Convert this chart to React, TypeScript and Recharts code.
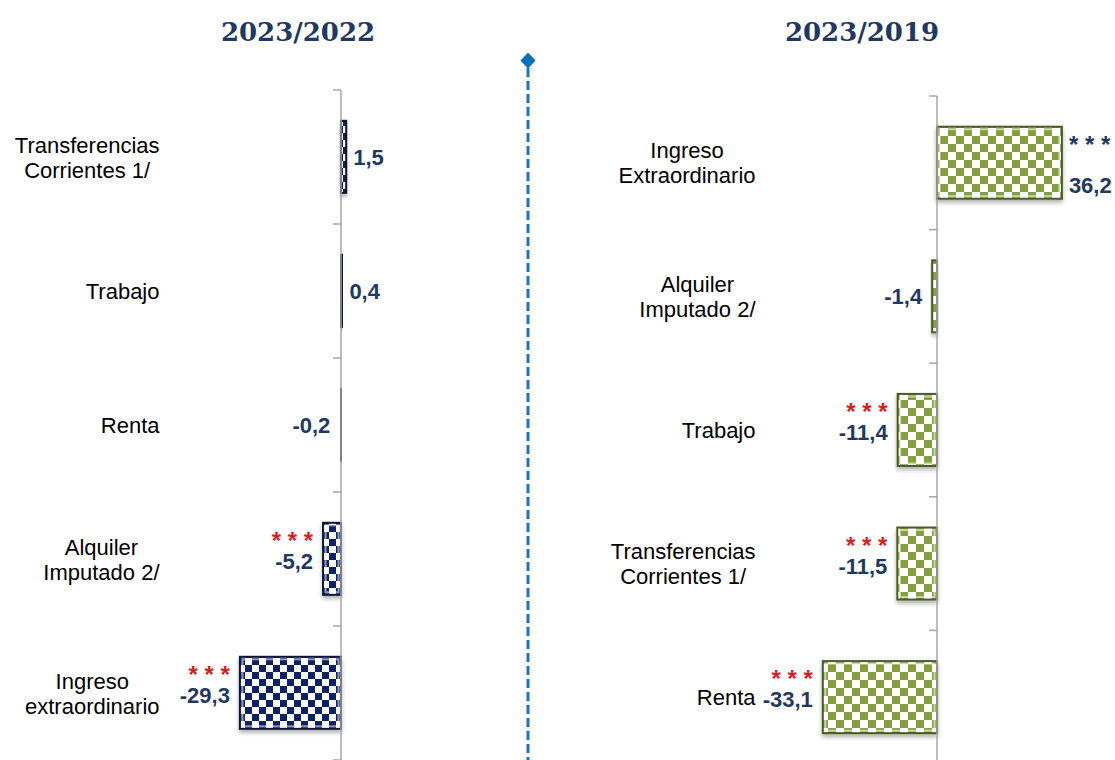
import React from 'react';
import { BarChart, Bar, XAxis, YAxis, ReferenceLine, LabelList } from 'recharts';

// ---------- DATA ----------
const leftTitle = '2023/2022';
const leftCategories = ['Transferencias\nCorrientes 1/', 'Trabajo', 'Renta', 'Alquiler\nImputado 2/', 'Ingreso\nextraordinario'];
const leftValues = [1.5, 0.4, -0.2, -5.2, -29.3];
const leftSig = ['', '', '', '***', '***'];

const rightTitle = '2023/2019';
const rightCategories = ['Ingreso\nExtraordinario', 'Alquiler\nImputado 2/', 'Trabajo', 'Transferencias\nCorrientes 1/', 'Renta'];
const rightValues = [36.2, -1.4, -11.4, -11.5, -33.1];
const rightSig = ['***', '', '***', '***', '***'];

const xDomain: [number, number] = [-50, 50];

// ---------- STYLE ----------
const SANS = "'Liberation Sans', Arial, sans-serif";
const NAVY = '#1F3864';
const RED = '#D91E1E';
const AXIS_GRAY = '#A6A6A6';
const AXIS_W = 168.5;
const TICK_PX = 8;
const CAT_FS = 22;
const VAL_FS = 22;

let canvasCtx: CanvasRenderingContext2D | null = null;
function measure(text: string, font: string): number {
  if (!canvasCtx) {
    const c = document.createElement('canvas');
    canvasCtx = c.getContext('2d');
  }
  if (!canvasCtx) return text.length * 10;
  canvasCtx.font = font;
  return canvasCtx.measureText(text).width;
}

const CategoryTick = (props: any) => {
  const { x, y, payload, index, zeroX, band, count } = props;
  const lines = String(payload.value).split('\n');
  const widths = lines.map((l) => measure(l, `${CAT_FS}px 'Liberation Sans'`));
  const block = Math.max(...widths);
  const cx = x - block / 2;
  const lh = 25;
  const y0 = y - ((lines.length - 1) * lh) / 2;
  return (
    <g>
      <line x1={zeroX - TICK_PX} x2={zeroX} y1={y - band / 2} y2={y - band / 2} stroke={AXIS_GRAY} strokeWidth={1.5} />
      {index === count - 1 ? (
        <line x1={zeroX - TICK_PX} x2={zeroX} y1={y + band / 2} y2={y + band / 2} stroke={AXIS_GRAY} strokeWidth={1.5} />
      ) : null}
      <text textAnchor="middle" fontFamily={SANS} fontSize={CAT_FS} fill="#000">
        {lines.map((l, i) => (
          <tspan key={i} x={cx} y={y0 + i * lh + 8}>
            {l}
          </tspan>
        ))}
      </text>
    </g>
  );
};

const fmt = (v: number) => v.toFixed(1).replace('.', ',');

const makeValueLabel = (values: number[], sig: string[]) => (props: any) => {
  const { x, y, width, height, index } = props;
  const v = values[index];
  const left = Math.min(x, x + width);
  const right = Math.max(x, x + width);
  const cy = y + Math.abs(height) / 2;
  const pos = v >= 0;
  const tx = pos ? right + 7 : left - 10;
  const anchor = pos ? 'start' : 'end';
  const s = sig[index];
  let valueY = cy + 8;
  if (s && pos) valueY = cy + 30;
  else if (s) valueY = cy + 10;
  return (
    <g>
      {s ? (
        <text x={tx} y={cy - 10} textAnchor={anchor} fontFamily={SANS} fontWeight="bold" fontSize={24} fill={pos ? NAVY : RED}>
          {s.split('').join(' ')}
        </text>
      ) : null}
      <text x={tx} y={valueY} textAnchor={anchor} fontFamily={SANS} fontWeight="bold" fontSize={VAL_FS} fill={NAVY}>
        {fmt(v)}
      </text>
    </g>
  );
};

const makeBarShape = (patternId: string, stroke: string) => (props: any) => {
  const { x, y, width, height } = props;
  const x0 = width < 0 ? x + width : x;
  const w = Math.abs(width);
  const y0 = height < 0 ? y + height : y;
  const h = Math.abs(height);
  return (
    <g filter="url(#barShadow)">
      <rect x={x0} y={y0} width={w} height={h} fill={`url(#${patternId})`} stroke={stroke} strokeWidth={2} />
      {w > 8 ? (
        <rect x={x0 + 2.5} y={y0 + 2.5} width={w - 5} height={h - 5} fill="none" stroke="rgba(255,255,255,0.55)" strokeWidth={2} />
      ) : null}
    </g>
  );
};

function Panel(props: {
  categories: string[];
  values: number[];
  sig: string[];
  width: number;
  height: number;
  top: number;
  right: number;
  patternId: string;
  stroke: string;
}) {
  const data = props.categories.map((name, i) => ({ name, value: props.values[i] }));
  const plotW = props.width - AXIS_W - props.right;
  const zeroX = AXIS_W + (plotW * (0 - xDomain[0])) / (xDomain[1] - xDomain[0]);
  const band = (props.height - props.top) / props.categories.length;
  const count = props.categories.length;
  return (
    <BarChart
      layout="vertical"
      width={props.width}
      height={props.height}
      data={data}
      margin={{ top: props.top, right: props.right, left: 0, bottom: 0 }}
      barCategoryGap="23%"
    >
      <XAxis type="number" domain={xDomain} hide />
      <YAxis
        type="category"
        dataKey="name"
        width={AXIS_W}
        axisLine={false}
        tickLine={false}
        tickMargin={3}
        interval={0}
        tick={(p: any) => <CategoryTick {...p} zeroX={zeroX} band={band} count={count} />}
      />
      <ReferenceLine x={0} stroke={AXIS_GRAY} strokeWidth={1.5} />
      <Bar dataKey="value" isAnimationActive={false} shape={makeBarShape(props.patternId, props.stroke)}>
        <LabelList dataKey="value" content={makeValueLabel(props.values, props.sig)} />
      </Bar>
    </BarChart>
  );
}

export default function App() {
  return (
    <div
      style={{
        position: 'absolute',
        left: 0,
        top: 0,
        width: 1115,
        height: 760,
        overflow: 'hidden',
        background: '#fff',
      }}
    >
      <svg width={0} height={0} style={{ position: 'absolute' }}>
        <defs>
          <pattern id="navyCheck" patternUnits="userSpaceOnUse" width={14} height={14}>
            <rect x={0} y={0} width={14} height={14} fill="#ffffff" />
            <rect x={0} y={0} width={7} height={7} fill="#0C2466" />
            <rect x={7} y={7} width={7} height={7} fill="#0C2466" />
          </pattern>
          <pattern id="greenCheck" patternUnits="userSpaceOnUse" width={16} height={16}>
            <rect x={0} y={0} width={16} height={16} fill="#ffffff" />
            <rect x={0} y={0} width={8} height={8} fill="#84A03E" />
            <rect x={8} y={8} width={8} height={8} fill="#84A03E" />
          </pattern>
          <filter id="barShadow" x="-30%" y="-20%" width="160%" height="150%">
            <feDropShadow dx={0} dy={3} stdDeviation={2} floodColor="#000" floodOpacity={0.3} />
          </filter>
        </defs>
      </svg>

      <div style={{ position: 'absolute', left: 0, top: 0 }}>
        <Panel
          categories={leftCategories}
          values={leftValues}
          sig={leftSig}
          width={530}
          height={760}
          top={90}
          right={16.5}
          patternId="navyCheck"
          stroke="#0A1838"
        />
      </div>
      <div style={{ position: 'absolute', left: 596, top: 0 }}>
        <Panel
          categories={rightCategories}
          values={rightValues}
          sig={rightSig}
          width={519}
          height={764}
          top={96}
          right={5.5}
          patternId="greenCheck"
          stroke="#4A5C24"
        />
      </div>

      <svg width={1115} height={760} style={{ position: 'absolute', left: 0, top: 0, pointerEvents: 'none' }}>
        <text x={298} y={41} textAnchor="middle" fontFamily="'DejaVu Serif', serif" fontWeight="bold" fontSize={26} fill={NAVY}>
          {leftTitle}
        </text>
        <text x={862} y={41} textAnchor="middle" fontFamily="'DejaVu Serif', serif" fontWeight="bold" fontSize={26} fill={NAVY}>
          {rightTitle}
        </text>
        <line x1={528} y1={68} x2={528} y2={760} stroke="#1874CD" strokeWidth={3} strokeDasharray="9 4" />
        <polygon points="528,52.5 535.5,60.5 528,68.5 520.5,60.5" fill="#0070C0" />
      </svg>
    </div>
  );
}
